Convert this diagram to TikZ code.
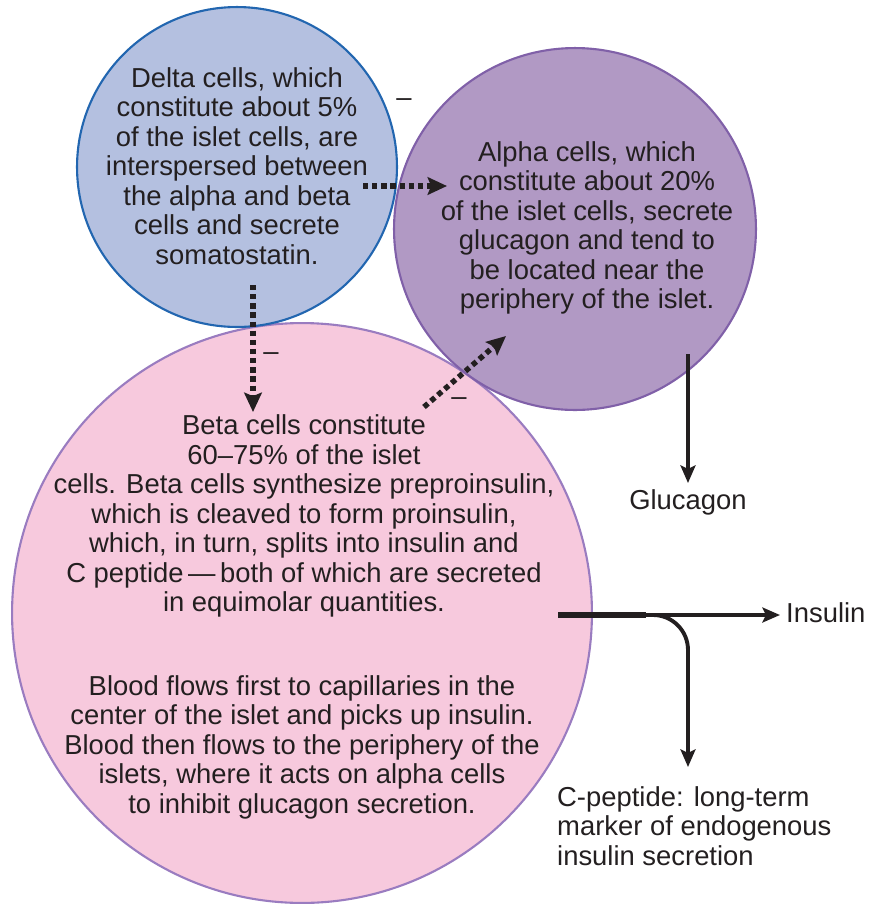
\documentclass[tikz,border=0pt]{standalone}
\usepackage{fontspec}
\setmainfont{Liberation Sans}
\usetikzlibrary{arrows.meta}

\definecolor{deltafill}{RGB}{180,192,224}
\definecolor{deltaline}{RGB}{34,102,176}
\definecolor{alphafill}{RGB}{177,153,196}
\definecolor{alphaline}{RGB}{128,96,168}
\definecolor{betafill}{RGB}{247,201,221}
\definecolor{betaline}{RGB}{154,124,192}
\definecolor{ink}{RGB}{35,31,32}

\tikzset{
  cell/.style={circle, inner sep=0pt, line width=1.2pt},
  txt/.style={align=center, text=ink, font=\fontsize{15.6}{16.8}\selectfont},
  inhibit/.style={draw=ink, line width=3.1pt, dash pattern=on 3pt off 2.2pt,
    -{Stealth[length=11pt, width=10pt, inset=2pt]}},
  secrete/.style={draw=ink, line width=2.2pt,
    -{Stealth[length=10pt, width=8.5pt, inset=2pt]}}
}

\begin{document}
\begin{tikzpicture}[x=0.02cm, y=-0.02cm]
\useasboundingbox (0,0) rectangle (874,904);

% islet cells
\node[cell, fill=betafill, draw=betaline, minimum size=11.6cm] (beta) at (302,613) {};
\node[cell, fill=alphafill, draw=alphaline, minimum size=7.24cm] (alpha) at (575,229) {};
\node[cell, fill=deltafill, draw=deltaline, minimum size=6.4cm] (delta) at (237,167) {};

% texts
\node[txt] (deltatxt) at (237,166) {Delta cells, which\\constitute about 5\%\\of the islet cells, are\\interspersed between\\the alpha and beta\\cells and secrete\\somatostatin.};
\node[txt] (alphatxt) at (587,228) {Alpha cells, which\\constitute about 20\%\\of the islet cells, secrete\\glucagon and tend to\\be located near the\\periphery of the islet.};
\node[txt] (betatxt) at (304,516) {Beta cells constitute\\60--75\% of the islet\\cells. Beta cells synthesize preproinsulin,\\which is cleaved to form proinsulin,\\which, in turn, splits into insulin and\\C peptide\,---\,both of which are secreted\\in equimolar quantities.};
\node[txt] (bloodtxt) at (302,747) {Blood flows first to capillaries in the\\center of the islet and picks up insulin.\\Blood then flows to the periphery of the\\islets, where it acts on alpha cells\\to inhibit glucagon secretion.};

\node[txt] (glucagon) at (688,502) {Glucagon};
\node[txt, anchor=west] (insulin) at (780,613) {Insulin};
\node[txt, anchor=west, align=left] (cpeptide) at (551,826) {C-peptide: long-term\\marker of endogenous\\insulin secretion};

% minus signs
\node[txt] (m1) at (404,103) {--};
\node[txt] (m2) at (271,357) {--};
\node[txt] (m3) at (459,402) {--};

% connector ends
\coordinate (d1) at (363,186);
\coordinate (a1) at (447,186);
\coordinate (d2) at (253,285);
\coordinate (b1) at (253,412);
\coordinate (b2) at (424,407);
\coordinate (a2) at (506,336);
\coordinate (a3) at (688,354);
\coordinate (b3) at (558,615);
\coordinate (br) at (646,615);
\coordinate (c1) at (688,767);

\draw[inhibit] (d1) -- (a1);
\draw[inhibit] (d2) -- (b1);
\draw[inhibit] (b2) -- (a2);

\draw[secrete] (a3) -- (a3 |- glucagon.north);
\draw[secrete] (b3) -- (b3 -| insulin.west);
\draw[draw=ink, line width=3pt] (b3) -- (br);
\draw[secrete, rounded corners=0.7cm] (br) -| (c1);
\end{tikzpicture}
\end{document}
